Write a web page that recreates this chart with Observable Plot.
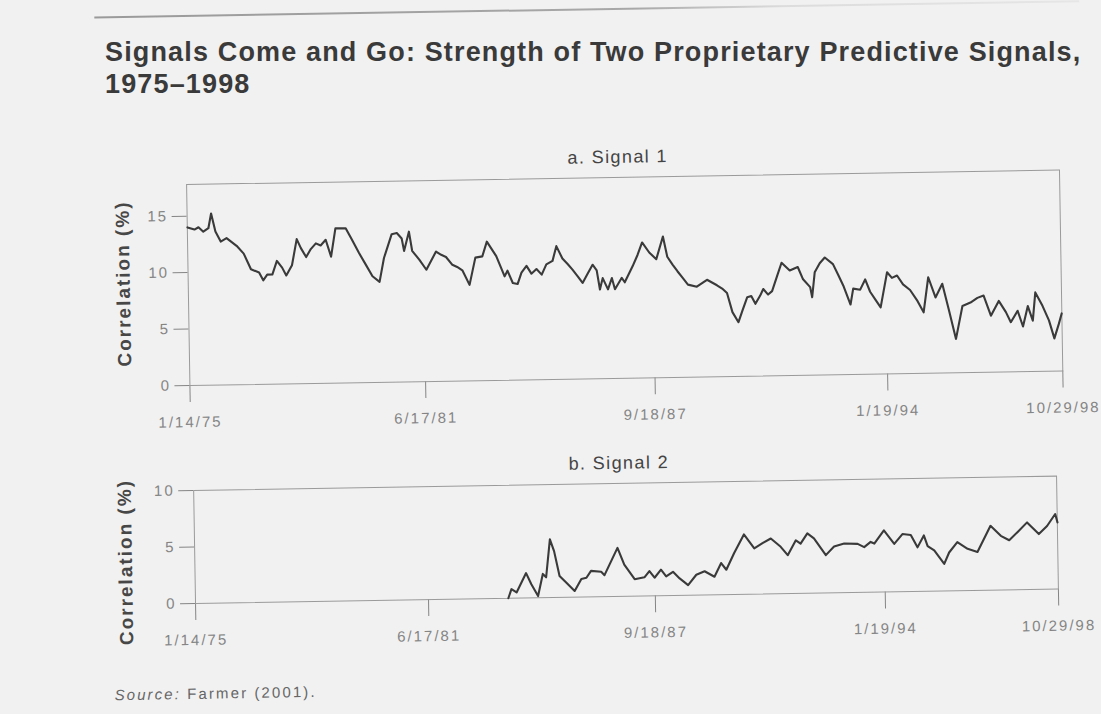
<!DOCTYPE html>
<html>
<head>
<meta charset="utf-8">
<script src="https://cdn.jsdelivr.net/npm/d3@7"></script>
<script src="https://cdn.jsdelivr.net/npm/@observablehq/plot@0.6"></script>
<style>
  html, body { margin: 0; padding: 0; background: #f1f1f1; width: 1101px; height: 714px; overflow: hidden; }
  body { font-family: "Liberation Sans", Arial, Helvetica, sans-serif; }
  #page { position: absolute; left: 0; top: 0; width: 1101px; height: 714px;
          transform: rotate(-0.95deg); transform-origin: 550.5px 357px; }
  .abs { position: absolute; white-space: nowrap; }
  #rule { left: 100px; top: 9px; width: 985px; height: 1.5px;
          background: linear-gradient(to right, #9a9a9a 0%, #a8a8a8 55%, #dcdcdc 70%, #e6e6e6 100%); }
  .title { left: 105px; font-size: 27px; line-height: 27px; font-weight: bold;
           color: #3a3a3a; letter-spacing: 1.15px; }
  .panel-title { width: 400px; text-align: center; font-size: 18px; line-height: 18px; color: #444; letter-spacing: 1.4px; }
  #source { left: 109px; top: 680px; font-size: 15px; line-height: 15px; color: #666; letter-spacing: 2.1px; }
  #chart1, #chart2 { position: absolute; left: 0; }
</style>
</head>
<body>
<div id="title1" class="abs title" style="top:38.6px;">Signals Come and Go: Strength of Two Proprietary Predictive Signals,</div>
<div id="title2" class="abs title" style="top:70.6px;">1975–1998</div>
<div id="page">
  <div id="rule" class="abs"></div>
  <div id="sub1" class="abs panel-title" style="left:421px; top:149px;">a. Signal 1</div>
  <div id="chart1"></div>
  <div id="sub2" class="abs panel-title" style="left:417px; top:455px;">b. Signal 2</div>
  <div id="chart2"></div>
  <div id="source" class="abs"><i>Source:</i> Farmer (2001).</div>
</div>
<script>
// ---- Data ----
const axisStart = "1975-01-14";
const axisEnd = "1998-10-29";
const tickDates = ["1975-01-14", "1981-06-17", "1987-09-18", "1994-01-19", "1998-10-29"];
const tickLabels = ["1/14/75", "6/17/81", "9/18/87", "1/19/94", "10/29/98"];
const yTicks1 = [0, 5, 10, 15];
const yTicks2 = [0, 5, 10];
const yLabel = "Correlation (%)";

// Signal 1: time (decimal year) and correlation (%)
const signal1Years = [
  1975.04, 1975.23, 1975.34, 1975.47, 1975.61, 1975.69, 1975.80, 1975.94, 1976.10, 1976.37,
  1976.56, 1976.75, 1976.97, 1977.08, 1977.19, 1977.33, 1977.46, 1977.60, 1977.71, 1977.87,
  1978.01, 1978.12, 1978.26, 1978.39, 1978.53, 1978.66, 1978.80, 1978.94, 1979.07, 1979.35,
  1979.51, 1979.70, 1979.89, 1980.06, 1980.25, 1980.38, 1980.60, 1980.74, 1980.87, 1980.93,
  1981.07, 1981.15, 1981.34, 1981.53, 1981.80, 1981.94, 1982.07, 1982.24, 1982.37, 1982.51,
  1982.70, 1982.87, 1983.06, 1983.19, 1983.44, 1983.66, 1983.74, 1983.88, 1984.01, 1984.12,
  1984.26, 1984.39, 1984.53, 1984.67, 1984.80, 1984.97, 1985.08, 1985.24, 1985.38, 1985.51,
  1985.65, 1985.78, 1985.92, 1986.06, 1986.17, 1986.25, 1986.33, 1986.47, 1986.58, 1986.66,
  1986.85, 1986.93, 1987.15, 1987.29, 1987.42, 1987.61, 1987.80, 1987.99, 1988.10, 1988.24,
  1988.37, 1988.51, 1988.65, 1988.89, 1989.17, 1989.44, 1989.58, 1989.71, 1989.85, 1990.01,
  1990.12, 1990.26, 1990.37, 1990.48, 1990.61, 1990.70, 1990.83, 1990.94, 1991.08, 1991.21,
  1991.43, 1991.65, 1991.79, 1991.98, 1992.03, 1992.11, 1992.25, 1992.39, 1992.61, 1992.74,
  1992.88, 1993.07, 1993.15, 1993.34, 1993.48, 1993.61, 1993.75, 1993.89, 1994.08, 1994.21,
  1994.35, 1994.51, 1994.70, 1994.90, 1995.06, 1995.20, 1995.39, 1995.58, 1995.74, 1995.93,
  1996.12, 1996.34, 1996.53, 1996.70, 1996.89, 1997.11, 1997.30, 1997.43, 1997.62, 1997.76,
  1997.90, 1998.03, 1998.11, 1998.30, 1998.47, 1998.61, 1998.74, 1998.82
];
const signal1Values = [
  14.0, 13.8, 14.0, 13.6, 13.9, 15.2, 13.6, 12.7, 13.0, 12.3,
  11.6, 10.2, 9.9, 9.2, 9.7, 9.7, 10.9, 10.3, 9.6, 10.5,
  12.8, 12.0, 11.2, 11.9, 12.4, 12.2, 12.7, 11.2, 13.7, 13.7,
  12.7, 11.5, 10.4, 9.4, 8.9, 11.0, 13.1, 13.2, 12.7, 11.6,
  13.3, 11.6, 10.8, 9.9, 11.5, 11.2, 11.0, 10.3, 10.1, 9.8,
  8.5, 10.9, 11.0, 12.3, 11.0, 9.2, 9.7, 8.6, 8.5, 9.5,
  10.1, 9.4, 9.8, 9.3, 10.2, 10.5, 11.8, 10.7, 10.2, 9.7,
  9.1, 8.5, 9.3, 10.1, 9.6, 7.9, 8.9, 7.9, 8.9, 7.9,
  8.9, 8.5, 9.9, 10.9, 12.0, 11.1, 10.5, 12.5, 10.7, 10.0,
  9.4, 8.8, 8.2, 8.0, 8.6, 8.1, 7.8, 7.4, 5.7, 4.8,
  5.8, 7.0, 7.1, 6.4, 7.1, 7.7, 7.2, 7.5, 8.8, 10.0,
  9.3, 9.6, 8.5, 7.8, 6.9, 9.1, 9.9, 10.4, 9.8, 8.9,
  7.9, 6.2, 7.6, 7.5, 8.4, 7.3, 6.6, 5.9, 9.0, 8.5,
  8.7, 7.9, 7.4, 6.4, 5.4, 8.5, 6.7, 7.9, 5.7, 3.0,
  5.9, 6.2, 6.6, 6.8, 5.0, 6.3, 5.3, 4.4, 5.4, 4.0,
  5.8, 4.5, 7.0, 5.8, 4.5, 2.9, 4.2, 5.1
];

// Signal 2: time (decimal year) and correlation (%)
const signal2Years = [
  1983.66, 1983.75, 1983.89, 1984.16, 1984.30, 1984.48, 1984.62, 1984.71, 1984.83, 1984.94,
  1985.08, 1985.26, 1985.49, 1985.68, 1985.82, 1985.95, 1986.23, 1986.32, 1986.69, 1986.87,
  1987.15, 1987.42, 1987.56, 1987.70, 1987.88, 1988.02, 1988.21, 1988.39, 1988.62, 1988.85,
  1989.08, 1989.35, 1989.54, 1989.68, 1989.90, 1990.18, 1990.46, 1990.69, 1990.92, 1991.19,
  1991.38, 1991.61, 1991.74, 1991.93, 1992.11, 1992.43, 1992.66, 1992.94, 1993.31, 1993.49,
  1993.67, 1993.77, 1994.04, 1994.32, 1994.55, 1994.78, 1994.96, 1995.14, 1995.24, 1995.42,
  1995.69, 1995.83, 1996.06, 1996.34, 1996.61, 1996.98, 1997.26, 1997.49, 1997.72, 1997.99,
  1998.31, 1998.54, 1998.77, 1998.83
];
const signal2Values = [
  0.0, 0.8, 0.5, 2.2, 1.2, 0.15, 2.1, 1.8, 5.15, 4.1,
  1.9, 1.3, 0.55, 1.6, 1.7, 2.3, 2.2, 1.9, 4.3, 2.8,
  1.5, 1.65, 2.2, 1.6, 2.3, 1.7, 2.1, 1.5, 0.9, 1.8,
  2.1, 1.6, 2.8, 2.2, 3.65, 5.3, 4.05, 4.5, 4.9, 4.15,
  3.4, 4.7, 4.4, 5.3, 4.85, 3.35, 4.1, 4.35, 4.3, 4.0,
  4.45, 4.3, 5.45, 4.25, 5.1, 5.0, 3.9, 4.95, 4.0, 3.6,
  2.4, 3.4, 4.3, 3.7, 3.4, 5.7, 4.8, 4.4, 5.1, 5.95,
  4.9, 5.6, 6.65, 5.9
];

// ---- Helpers ----
const yearToDate = (y) => {
  const yr = Math.floor(y);
  const a = Date.UTC(yr, 0, 1), b = Date.UTC(yr + 1, 0, 1);
  return new Date(a + (y - yr) * (b - a));
};
const parse = (s) => new Date(s + "T00:00:00Z");
const series1 = signal1Years.map((y, i) => ({date: yearToDate(y), value: signal1Values[i]}));
const series2 = signal2Years.map((y, i) => ({date: yearToDate(y), value: signal2Values[i]}));
const labelByTime = new Map(tickDates.map((d, i) => [+parse(d), tickLabels[i]]));

function panel({data, height, marginLeft, marginRight, yDomain, yTicks, labelDx, labelDy}) {
  return Plot.plot({
    width: 1101,
    height,
    marginLeft,
    marginRight,
    marginTop: 20,
    marginBottom: 45,
    style: {
      background: "transparent",
      fontFamily: "'Liberation Sans', Arial, Helvetica, sans-serif",
      fontSize: "15px",
      color: "#858585",
      letterSpacing: "2px",
      overflow: "visible"
    },
    x: {
      type: "utc",
      domain: [parse(axisStart), parse(axisEnd)],
      ticks: tickDates.map(parse),
      tickFormat: (d) => labelByTime.get(+d),
      tickSize: 17,
      tickPadding: 14,
      label: null
    },
    y: {
      domain: yDomain,
      ticks: yTicks,
      tickSize: 15,
      tickPadding: 4,
      label: null
    },
    marks: [
      Plot.frame({stroke: "#9a9a9a", strokeWidth: 1}),
      Plot.text([yLabel], {
        text: (d) => d,
        frameAnchor: "left",
        textAnchor: "middle",
        lineAnchor: "middle",
        rotate: -90,
        dx: labelDx,
        dy: labelDy,
        fontSize: 19,
        fontWeight: "bold",
        fill: "#474747"
      }),
      Plot.line(data, {x: "date", y: "value", stroke: "#3a3a3a", strokeWidth: 2.1, strokeLinejoin: "round"})
    ]
  });
}

const c1 = panel({
  data: series1, height: 266, marginLeft: 189, marginRight: 39,
  yDomain: [0, 17.8], yTicks: yTicks1, labelDx: -64.5, labelDy: -2.5
});
const c2 = panel({
  data: series2, height: 178, marginLeft: 191, marginRight: 47,
  yDomain: [0, 10], yTicks: yTicks2, labelDx: -69, labelDy: 14
});
const el1 = document.getElementById("chart1");
el1.style.top = "158px";
el1.appendChild(c1);
const el2 = document.getElementById("chart2");
el2.style.top = "464px";
el2.appendChild(c2);
</script>
</body>
</html>
